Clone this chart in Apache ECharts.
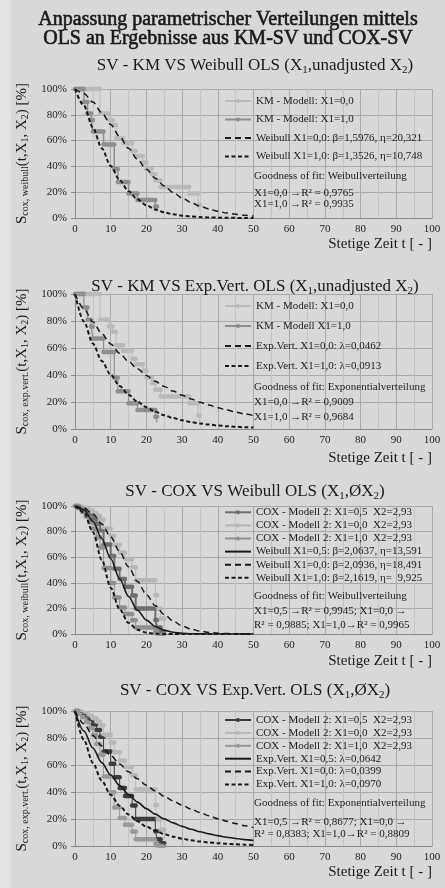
<!DOCTYPE html>
<html>
<head>
<meta charset="utf-8">
<title>Anpassung parametrischer Verteilungen</title>
<style>
html, body { margin:0; padding:0; background:#e3e3e3; }
#main { width:445px; height:888px; }
</style>
</head>
<body>
<div id="main"></div>
<script src="https://cdn.jsdelivr.net/npm/echarts@6/dist/echarts.min.js"></script>
<script>
// Zeitpunkte der angepassten Kurven
var fitT = [0,2.5,5,7.5,10,12.5,15,17.5,20,22.5,25,27.5,30,32.5,35,37.5,40,42.5,45,47.5,50];

// Panel 1: Weibull OLS
var p1Weib00 = [1,0.9654,0.8990,0.8159,0.7245,0.6312,0.5402,0.4549,0.3772,0.3083,0.2485,0.1976,0.1552,0.1203,0.0922,0.0698,0.0523,0.0387,0.0284,0.0206,0.0148];
var p1Weib10 = [1,0.8701,0.7010,0.5409,0.4037,0.2933,0.2082,0.1446,0.0986,0.0661,0.0436,0.0283,0.0182,0.0115,0.0072,0.0044,0.0027,0.0016,0.0010,0.0006,0.0003];
// Panel 2: Exponentialverteilung OLS
var p2Exp00 = [1,0.8909,0.7937,0.7071,0.6300,0.5613,0.5001,0.4455,0.3969,0.3536,0.3151,0.2807,0.2501,0.2228,0.1985,0.1769,0.1576,0.1404,0.1251,0.1114,0.0993];
var p2Exp10 = [1,0.7959,0.6335,0.5042,0.4013,0.3194,0.2542,0.2023,0.1611,0.1282,0.1020,0.0812,0.0646,0.0514,0.0409,0.0326,0.0259,0.0206,0.0164,0.0131,0.0104];
// Panel 3: Weibull OLS (COX)
var p3Weib05 = [1,0.9700,0.8807,0.7459,0.5880,0.4311,0.2935,0.1855,0.1087,0.0590,0.0297,0.0138,0.0060,0.0024,0.0009,0.0003,0.0001,0,0,0,0];
var p3Weib00 = [1,0.9850,0.9374,0.8597,0.7587,0.6437,0.5245,0.4102,0.3078,0.2213,0.1526,0.1007,0.0637,0.0385,0.0223,0.0123,0.0065,0.0033,0.0016,0.0007,0.0003];
var p3Weib10 = [1,0.9505,0.7969,0.5794,0.3618,0.1928,0.0870,0.0331,0.0106,0.0028,0.0006,0.0001,0,0,0,0,0,0,0,0,0];
// Panel 4: Exponentialverteilung OLS (COX)
var p4Exp05 = [1,0.8517,0.7254,0.6178,0.5262,0.4482,0.3817,0.3251,0.2769,0.2359,0.2009,0.1711,0.1457,0.1241,0.1057,0.0901,0.0767,0.0653,0.0556,0.0474,0.0404];
var p4Exp00 = [1,0.9051,0.8191,0.7414,0.6710,0.6073,0.5497,0.4975,0.4502,0.4075,0.3688,0.3338,0.3021,0.2734,0.2474,0.2240,0.2027,0.1835,0.1660,0.1503,0.1360];
var p4Exp10 = [1,0.7847,0.6157,0.4831,0.3791,0.2974,0.2334,0.1832,0.1437,0.1128,0.0885,0.0694,0.0545,0.0428,0.0335,0.0263,0.0207,0.0162,0.0127,0.0100,0.0078];

// KM-Treppen (Zeitpunkt, Wert danach)
var kmT00 = [0,7,9.5,10.5,11.5,13.5,16,17,19,20,21.5,22.5,24,32,34.5,35];
var kmS00 = [1,0.81,0.76,0.72,0.62,0.58,0.52,0.48,0.43,0.38,0.34,0.29,0.24,0.19,0.10,0.05];
var kmT10 = [0,2.5,3.5,4.5,5,8,11,12,15,17.5,22.5,23];
var kmS10 = [1,0.90,0.81,0.76,0.67,0.57,0.38,0.28,0.19,0.14,0.09,0.05];

// COX-Modell 2 Treppen
var coxT   = [0,1,2,3,4,5,6,7,8,10,11,12.5,14,16,17,22.5,23,24,25];
var coxS05 = [1,0.99,0.975,0.955,0.93,0.90,0.86,0.81,0.70,0.61,0.51,0.43,0.37,0.30,0.20,0.11,0.05,0.02,0.005];
var coxS00 = [1,0.995,0.986,0.975,0.962,0.945,0.922,0.892,0.825,0.766,0.695,0.634,0.585,0.522,0.419,0.304,0.198,0.121,0.057];
var coxS10 = [1,0.982,0.954,0.918,0.874,0.822,0.755,0.676,0.515,0.399,0.286,0.208,0.157,0.107,0.050,0.017,0.004,0.001,0];

var xTicks = [0,10,20,30,40,50,60,70,80,90,100];

var serif = "'Liberation Serif', 'DejaVu Serif', serif";
var myChart = echarts.init(document.getElementById('main'));

function zip(t, v) { return t.map(function (x, i) { return [x, v[i]]; }); }
function plateaus(t, v) {
  return t.map(function (x, i) { return [x, i < t.length - 1 ? t[i + 1] : x, v[i]]; });
}
function renderPlateau(params, api) {
  var a = api.coord([api.value(0), api.value(2)]);
  var b = api.coord([api.value(1), api.value(2)]);
  return { type:'line', shape:{ x1:a[0], y1:a[1], x2:b[0], y2:b[1] },
    style:{ stroke: api.visual('color'), lineWidth: 4.5, lineCap:'round' } };
}

var labels = {};
var series = [];
function stepSeries(id, label, g, t, v, color, w) {
  labels[id] = label;
  series.push({ name:id, type:'line', xAxisIndex:g, yAxisIndex:g, data:zip(t, v), step:'end',
    symbol:'circle', symbolSize:4, showSymbol:false, color:color,
    lineStyle:{ color:color, width:w }, itemStyle:{ color:color }, z:2, animation:false });
  series.push({ name:id + '_p', type:'custom', xAxisIndex:g, yAxisIndex:g, data:plateaus(t, v),
    renderItem:renderPlateau, itemStyle:{ color:color }, encode:{ x:[0,1], y:2 }, z:2, animation:false });
}
function fitSeries(id, label, g, v, dash, w) {
  labels[id] = label;
  series.push({ name:id, type:'line', xAxisIndex:g, yAxisIndex:g, data:zip(fitT, v), symbol:'none',
    smooth:0.3, smoothMonotone:'x', color:'#1a1a1a',
    lineStyle:{ color:'#1a1a1a', width:w, type:dash }, z:3, animation:false });
}

var longDash = [6,4], shortDash = [4,2.5];

stepSeries('p1k0', 'KM - Modell: X1=0,0', 0, kmT00, kmS00, '#bababa', 1);
stepSeries('p1k1', 'KM - Modell: X1=1,0', 0, kmT10, kmS10, '#8e8e8e', 1.5);
fitSeries('p1w0', 'Weibull X1=0,0: β=1,5976, η=20,321', 0, p1Weib00, longDash, 1.5);
fitSeries('p1w1', 'Weibull X1=1,0: β=1,3526, η=10,748', 0, p1Weib10, shortDash, 2);

stepSeries('p2k0', 'KM - Modell: X1=0,0', 1, kmT00, kmS00, '#bababa', 1);
stepSeries('p2k1', 'KM - Modell X1=1,0', 1, kmT10, kmS10, '#8e8e8e', 1.2);
fitSeries('p2e0', 'Exp.Vert. X1=0,0: λ=0,0462', 1, p2Exp00, longDash, 1.5);
fitSeries('p2e1', 'Exp.Vert. X1=1,0: λ=0,0913', 1, p2Exp10, shortDash, 2);

stepSeries('p3c05', 'COX - Modell 2: X1=0,5  X2=2,93', 2, coxT, coxS05, '#6e6e6e', 2);
stepSeries('p3c00', 'COX - Modell 2: X1=0,0  X2=2,93', 2, coxT, coxS00, '#b6b6b6', 1);
stepSeries('p3c10', 'COX - Modell 2: X1=1,0  X2=2,93', 2, coxT, coxS10, '#8f8f8f', 1);
fitSeries('p3w05', 'Weibull X1=0,5: β=2,0637, η=13,591', 2, p3Weib05, 'solid', 1.6);
fitSeries('p3w00', 'Weibull X1=0,0: β=2,0936, η=18,491', 2, p3Weib00, longDash, 1.5);
fitSeries('p3w10', 'Weibull X1=1,0: β=2,1619, η=  9,925', 2, p3Weib10, shortDash, 2);

stepSeries('p4c05', 'COX - Modell 2: X1=0,5  X2=2,93', 3, coxT, coxS05, '#3c3c3c', 1);
stepSeries('p4c00', 'COX - Modell 2: X1=0,0  X2=2,93', 3, coxT, coxS00, '#b8b8b8', 1);
stepSeries('p4c10', 'COX - Modell 2: X1=1,0  X2=2,93', 3, coxT, coxS10, '#999999', 1);
fitSeries('p4e05', 'Exp.Vert. X1=0,5: λ=0,0642', 3, p4Exp05, 'solid', 1.6);
fitSeries('p4e00', 'Exp.Vert. X1=0,0: λ=0,0399', 3, p4Exp00, longDash, 1.5);
fitSeries('p4e10', 'Exp.Vert. X1=1,0: λ=0,0970', 3, p4Exp10, shortDash, 2);

var grids = [
  { left:75, top:89,  width:357, height:129 },
  { left:75, top:294, width:357, height:135 },
  { left:75, top:506, width:357, height:128 },
  { left:75, top:711, width:357, height:135 }
];
var yNames = [
  '{b|S}{s|cox, weibull}{b|(t,X}{s|1}{b|, X}{s|2}{b|) [%]}',
  '{b|S}{s|cox, exp.vert.}{b|(t,X}{s|1}{b|, X}{s|2}{b|) [%]}',
  '{b|S}{s|cox, weibull}{b|(t,X}{s|1}{b|, X}{s|2}{b|) [%]}',
  '{b|S}{s|cox, exp.vert.}{b|(t,X}{s|1}{b|, X}{s|2}{b|) [%]}'
];
var panelTitles = [
  '{n|SV - KM VS Weibull OLS (X}{s|1}{n|,unadjusted X}{s|2}{n|)}',
  '{n|SV - KM VS Exp.Vert. OLS (X}{s|1}{n|,unadjusted X}{s|2}{n|)}',
  '{n|SV - COX VS Weibull OLS (X}{s|1}{n|,ØX}{s|2}{n|)}',
  '{n|SV - COX VS Exp.Vert. OLS (X}{s|1}{n|,ØX}{s|2}{n|)}'
];
var titleY = [66, 287, 492, 691];
var xNameY = [245, 459, 662, 873];

var richTitle = {
  n:{ fontFamily:serif, fontSize:17, fontWeight:'normal', color:'#1a1a1a', lineHeight:19 },
  s:{ fontFamily:serif, fontSize:11, fontWeight:'normal', color:'#1a1a1a', verticalAlign:'bottom', lineHeight:11 }
};
var richY = {
  b:{ fontFamily:serif, fontSize:15, color:'#1a1a1a', lineHeight:17 },
  s:{ fontFamily:serif, fontSize:10, color:'#1a1a1a', verticalAlign:'bottom', lineHeight:10 }
};

// Hauptueberschrift: Serifenschrift, Fettdruck ueber Textkontur
var titles = [{
  text:'Anpassung parametrischer Verteilungen mittels\nOLS an Ergebnisse aus KM-SV und COX-SV',
  left:228, top:10, textAlign:'center', padding:0,
  textStyle:{ fontFamily:serif, fontSize:20, fontWeight:'normal', color:'#1a1a1a', lineHeight:19,
    textBorderColor:'#1a1a1a', textBorderWidth:0.6 }
}];
var xAxes = [], yAxes = [];
for (var i = 0; i < 4; i++) {
  titles.push({ text:panelTitles[i], left:255, top:titleY[i] - 9.5, textAlign:'center', padding:0,
    textStyle:{ fontWeight:'normal', rich:richTitle } });
  titles.push({ text:'Stetige Zeit t [ - ]', left:432, top:xNameY[i] - 8, textAlign:'right', padding:0,
    textStyle:{ fontFamily:serif, fontSize:15, fontWeight:'normal', color:'#1a1a1a' } });
  xAxes.push({ gridIndex:i, type:'value', min:xTicks[0], max:xTicks[xTicks.length - 1], interval:10,
    axisLabel:{ fontFamily:serif, fontSize:11, color:'#222', margin:6 },
    axisLine:{ lineStyle:{ color:'#8a8a8a' } }, axisTick:{ show:false },
    splitLine:{ lineStyle:{ color:'#a9a9a9' } },
    minorTick:{ show:false, splitNumber:2 }, minorSplitLine:{ show:true, lineStyle:{ color:'#c4c4c4' } } });
  yAxes.push({ gridIndex:i, type:'value', min:0, max:1, interval:0.2,
    axisLabel:{ fontFamily:serif, fontSize:11, color:'#222', margin:8,
      formatter:function (v) { return Math.round(v * 100) + '%'; } },
    axisLine:{ show:true, lineStyle:{ color:'#8a8a8a' } },
    axisTick:{ show:true, length:4, lineStyle:{ color:'#8a8a8a' } },
    splitLine:{ lineStyle:{ color:'#a9a9a9' } },
    name:yNames[i], nameLocation:'middle', nameGap:36, nameTextStyle:{ rich:richY } });
}

// Fit-Linien: kein Punkt im Legendensymbol
var fitIds = { p1w0:1, p1w1:1, p2e0:1, p2e1:1, p3w05:1, p3w00:1, p3w10:1, p4e05:1, p4e00:1, p4e10:1 };
function legendFor(ids, firstY, step) {
  var data = ids.map(function (n) {
    return fitIds[n] ? { name:n, itemStyle:{ color:'rgba(0,0,0,0)', borderWidth:0 } } : { name:n };
  });
  return { data:data, orient:'vertical', left:224, top:firstY - 6, itemWidth:26, itemHeight:5,
    itemGap:step - 12, padding:0, selectedMode:false,
    formatter:function (n) { return labels[n]; },
    textStyle:{ fontFamily:serif, fontSize:11, color:'#222', lineHeight:12 } };
}

function note(y, txt) {
  return { type:'text', x:254, y:y, z:10,
    style:{ text:txt, fontFamily:serif, fontSize:11, fill:'#222', verticalAlign:'middle' } };
}

myChart.setOption({
  backgroundColor:'#d8d8d8',
  animation:false,
  title:titles,
  grid:grids,
  xAxis:xAxes,
  yAxis:yAxes,
  legend:[
    legendFor(['p1k0','p1k1','p1w0','p1w1'], 101, 18.5),
    legendFor(['p2k0','p2k1','p2e0','p2e1'], 306, 20),
    legendFor(['p3c05','p3c00','p3c10','p3w05','p3w00','p3w10'], 512.3, 13.1),
    legendFor(['p4c05','p4c00','p4c10','p4e05','p4e00','p4e10'], 720, 12.9)
  ],
  graphic:[
    { type:'rect', shape:{ x:0, y:0, width:11, height:888 }, style:{ fill:'#e3e3e3' }, z:-1 },
    note(176, 'Goodness of fit: Weibullverteilung'),
    note(193, 'X1=0,0 →R² = 0,9765'),
    note(204, 'X1=1,0 →R² = 0,9935'),
    note(387, 'Goodness of fit: Exponentialverteilung'),
    note(402, 'X1=0,0 →R² = 0,9009'),
    note(417, 'X1=1,0 →R² = 0,9684'),
    note(596, 'Goodness of fit: Weibullverteilung'),
    note(611.5, 'X1=0,5 →R² = 0,9945; X1=0,0 →'),
    note(625, 'R² = 0,9885; X1=1,0→R² = 0,9965'),
    note(803, 'Goodness of fit: Exponentialverteilung'),
    note(822.5, 'X1=0,5 →R² = 0,8677; X1=0,0 →'),
    note(834, 'R² = 0,8383; X1=1,0→R² = 0,8809')
  ],
  series:series
});
</script>
</body>
</html>
